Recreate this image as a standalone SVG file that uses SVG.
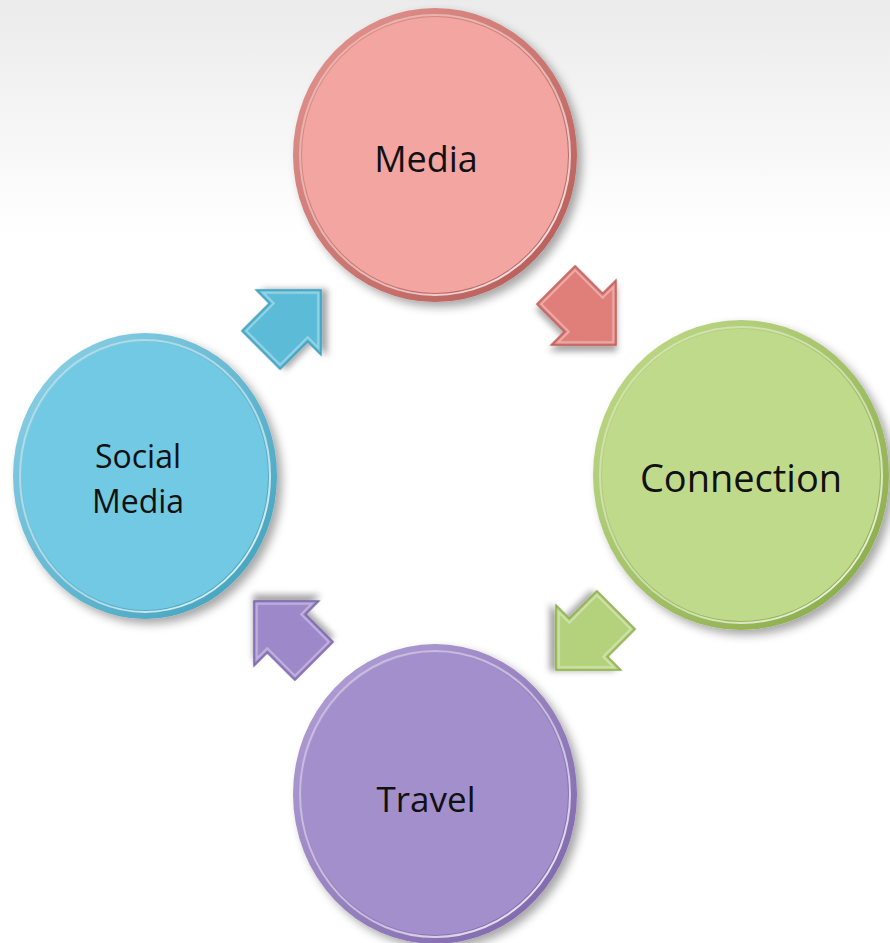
<svg xmlns="http://www.w3.org/2000/svg" width="890" height="943" viewBox="0 0 890 943">
<defs>
<linearGradient id="bg" x1="0" y1="0" x2="0" y2="1">
<stop offset="0" stop-color="#ebebeb"/>
<stop offset="0.25" stop-color="#ffffff"/>
<stop offset="1" stop-color="#ffffff"/>
</linearGradient>
<filter id="sh" x="-20%" y="-20%" width="140%" height="140%">
<feDropShadow dx="5" dy="5" stdDeviation="5" flood-color="#000" flood-opacity="0.35"/>
</filter>
<filter id="ash" x="-30%" y="-30%" width="160%" height="160%">
<feDropShadow dx="4" dy="4" stdDeviation="3" flood-color="#000" flood-opacity="0.35"/>
</filter>
<linearGradient id="hl" x1="0" y1="0" x2="1" y2="1">
<stop offset="0" stop-color="#fff" stop-opacity="0.3"/>
<stop offset="0.6" stop-color="#fff" stop-opacity="0.5"/>
<stop offset="1" stop-color="#fff" stop-opacity="0.95"/>
</linearGradient>
<linearGradient id="rimR" x1="0" y1="0" x2="1" y2="1">
<stop offset="0" stop-color="#e59590"/><stop offset="1" stop-color="#b45a56"/>
</linearGradient>
<linearGradient id="rimG" x1="0" y1="0" x2="1" y2="1">
<stop offset="0" stop-color="#c2dc8c"/><stop offset="1" stop-color="#86a846"/>
</linearGradient>
<linearGradient id="rimP" x1="0" y1="0" x2="1" y2="1">
<stop offset="0" stop-color="#b5a2d8"/><stop offset="1" stop-color="#7a63a8"/>
</linearGradient>
<linearGradient id="rimB" x1="0" y1="0" x2="1" y2="1">
<stop offset="0" stop-color="#8fd3e8"/><stop offset="1" stop-color="#3f9fbb"/>
</linearGradient>
<path id="arw" d="M0,-27 L39,-27 L39,-46 L85,0 L39,46 L39,27 L0,27 Z"/>
</defs>
<style>
.lbl{font-family:"Open Sans","Noto Sans",sans-serif;fill:#111;text-anchor:middle}
.hl{fill:none;stroke:url(#hl);stroke-width:2}
.abev{fill:none;stroke:#fff;stroke-opacity:0.35;stroke-width:2}
</style>
<rect width="890" height="943" fill="url(#bg)"/>

<g id="connectors">
<g id="arrow-social-media" filter="url(#ash)" transform="translate(261,350) rotate(-45)">
<use href="#arw" fill="#5bbcd8" stroke="#3a9ab8" stroke-width="1.5"/>
<path d="M3,-24 L42,-24 L42,-39 L81,0 L42,39 L42,24 L3,24 Z" class="abev"/>
</g>
<g id="arrow-media-connection" filter="url(#ash)" transform="translate(556,285) rotate(45)">
<use href="#arw" fill="#e07e79" stroke="#b85a56" stroke-width="1.5"/>
<path d="M3,-24 L42,-24 L42,-39 L81,0 L42,39 L42,24 L3,24 Z" class="abev"/>
</g>
<g id="arrow-connection-travel" filter="url(#ash)" transform="translate(616,610) rotate(135)">
<use href="#arw" fill="#b4d27b" stroke="#88a84a" stroke-width="1.5"/>
<path d="M3,-24 L42,-24 L42,-39 L81,0 L42,39 L42,24 L3,24 Z" class="abev"/>
</g>
<g id="arrow-travel-social" filter="url(#ash)" transform="translate(314,661) rotate(-135)">
<use href="#arw" fill="#9d88c9" stroke="#7560a5" stroke-width="1.5"/>
<path d="M3,-24 L42,-24 L42,-39 L81,0 L42,39 L42,24 L3,24 Z" class="abev"/>
</g>
</g>

<g id="node-media">
<ellipse cx="435" cy="155" rx="142" ry="147" fill="url(#rimR)" filter="url(#sh)"/>
<ellipse cx="435" cy="155" rx="133" ry="138" fill="#f3a5a1"/>
<ellipse cx="435" cy="155" rx="135" ry="140" class="hl"/>
<text class="lbl" x="426" y="172" font-size="36">Media</text>
</g>

<g id="node-connection">
<ellipse cx="741" cy="475" rx="148" ry="155" fill="url(#rimG)" filter="url(#sh)"/>
<ellipse cx="741" cy="475" rx="139" ry="146" fill="#c0da8c"/>
<ellipse cx="741" cy="475" rx="141" ry="148" class="hl"/>
<text class="lbl" x="741" y="492" font-size="38">Connection</text>
</g>

<g id="node-travel">
<ellipse cx="435" cy="794" rx="142" ry="150" fill="url(#rimP)" filter="url(#sh)"/>
<ellipse cx="435" cy="794" rx="133" ry="141" fill="#a28fcb"/>
<ellipse cx="435" cy="794" rx="135" ry="143" class="hl"/>
<text class="lbl" x="426" y="812" font-size="35">Travel</text>
</g>

<g id="node-social-media">
<ellipse cx="145" cy="476" rx="132" ry="143" fill="url(#rimB)" filter="url(#sh)"/>
<ellipse cx="145" cy="476" rx="123" ry="134" fill="#72c9e3"/>
<ellipse cx="145" cy="476" rx="125" ry="136" class="hl"/>
<text class="lbl" x="138" y="468" font-size="32">Social</text>
<text class="lbl" x="138" y="513" font-size="32">Media</text>
</g>
</svg>
